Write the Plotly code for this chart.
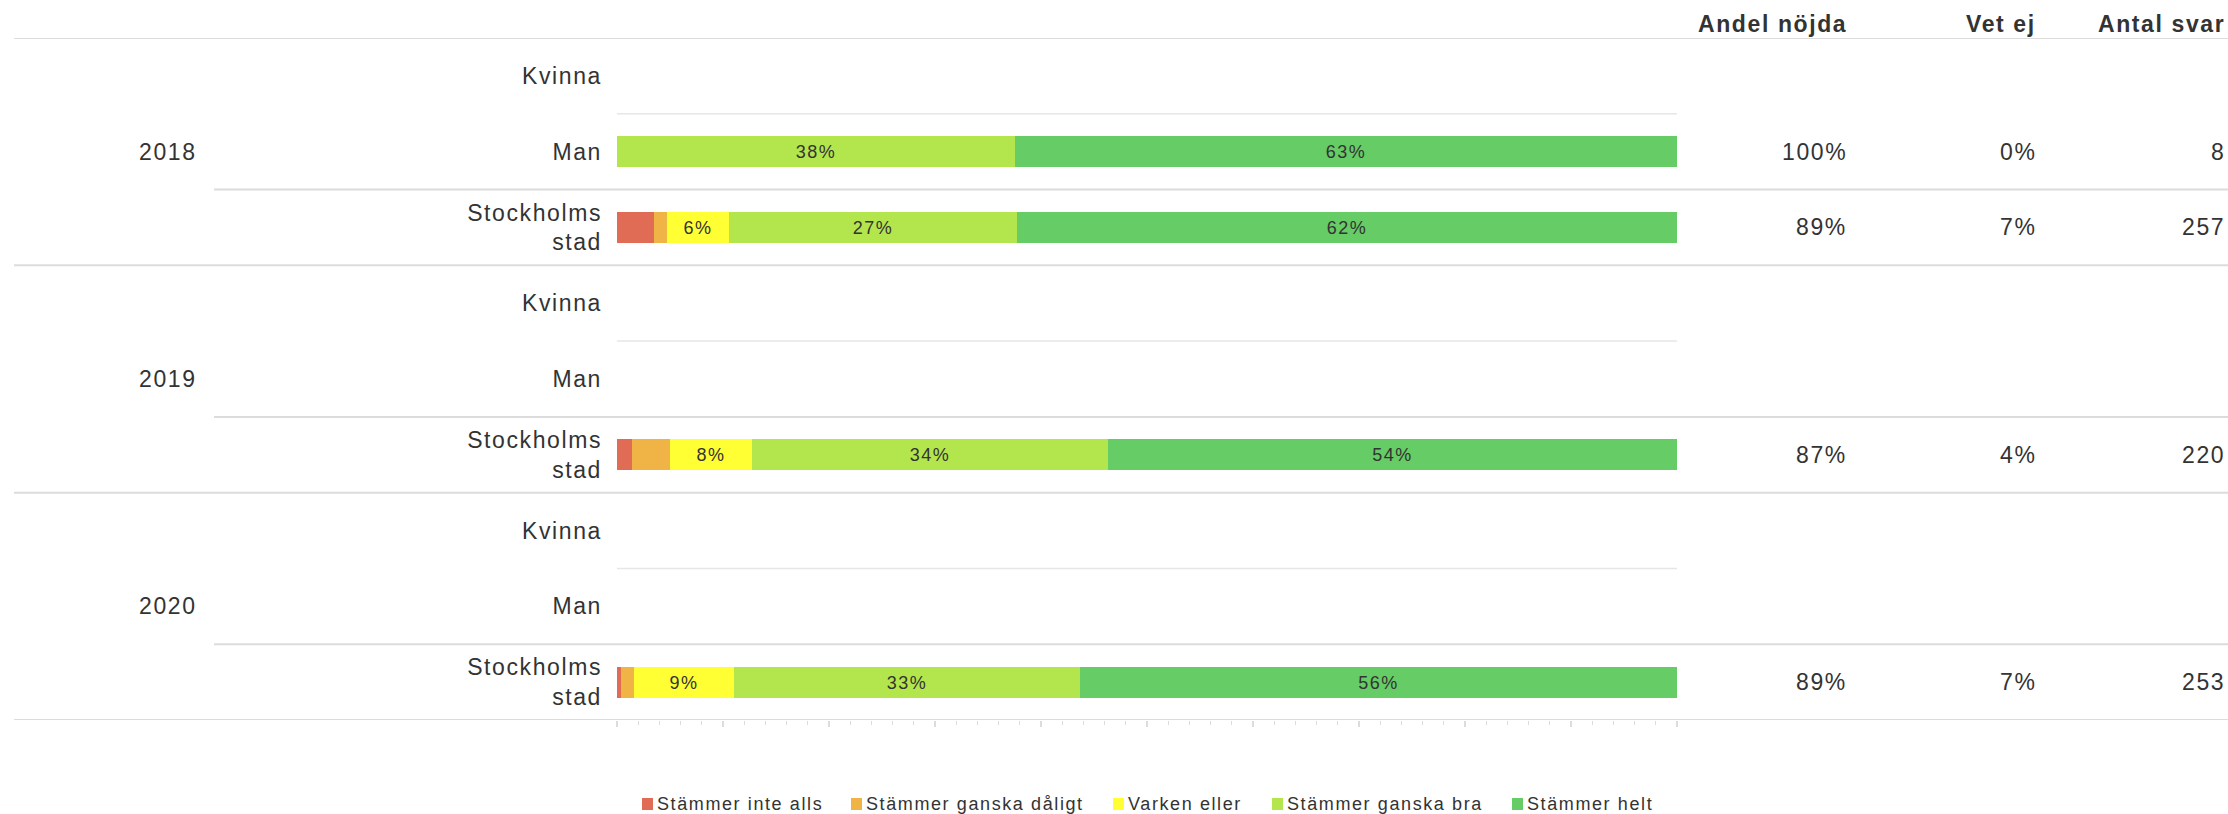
import plotly.graph_objects as go

# ---- data -------------------------------------------------------------
years = ["2018", "2019", "2020"]
groups = ["Kvinna", "Man", "Stockholms stad"]
categories = ["Stämmer inte alls", "Stämmer ganska dåligt", "Varken eller",
              "Stämmer ganska bra", "Stämmer helt"]
colors = ["#e06c55", "#f0b446", "#ffff33", "#b3e64d", "#66cc66"]

# share of answers (%) per row: 2018 Kvinna, Man, Stockholms stad, 2019 ..., 2020 ...
inte_alls = [None, 0.0, 3.5, None, None, 1.4, None, None, 0.4]
ganska_daligt = [None, 0.0, 1.2, None, None, 3.6, None, None, 1.2]
varken_eller = [None, 0.0, 5.9, None, None, 7.7, None, None, 9.4]
ganska_bra = [None, 37.5, 27.1, None, None, 33.6, None, None, 32.7]
helt = [None, 62.5, 62.3, None, None, 53.7, None, None, 56.3]

andel_nojda = ["", "100%", "89%", "", "", "87%", "", "", "89%"]
vet_ej = ["", "0%", "7%", "", "", "4%", "", "", "7%"]
antal_svar = ["", "8", "257", "", "", "220", "", "", "253"]

series = [inte_alls, ganska_daligt, varken_eller, ganska_bra, helt]

# ---- layout constants -----------------------------------------------------
W, H = 2228, 814
TOP, BOTTOM = 38, 720            # pixel rows of the plot area
X0, X1 = 617, 1677               # pixel columns of the bar area
TXT = "#333333"
FONT = "Liberation Sans, Arial, sans-serif"
GRID_MAJOR = "#dcdcdc"
GRID_MINOR = "#e6e6e6"
LABEL_SIZE = 23
LABEL_LS = 1.6


def px_x(p):
    return p / W


def px_y(p):
    return (BOTTOM - p) / (BOTTOM - TOP)


def spaced(s, px=LABEL_LS):
    return f'<span style="letter-spacing:{px}px">{s}</span>'


rows = [(y, g) for y in years for g in groups]
row_pos = list(range(len(rows)))
row_labels = ["<br>".join(spaced(w) for w in (["Stockholms", "stad"] if g == "Stockholms stad" else [g]))
              for _, g in rows]

fig = go.Figure()

for name, vals, col in zip(categories, series, colors):
    fig.add_trace(go.Bar(
        name=name,
        orientation="h",
        y=row_pos,
        x=vals,
        width=0.41,
        marker=dict(color=col, line=dict(width=0)),
        texttemplate=spaced("%{x:.0f}%", 1.5),
        textposition=["inside" if (v is not None and v >= 5) else "none" for v in vals],
        insidetextanchor="middle",
        textangle=0,
        constraintext="none",
        textfont=dict(size=18, color=TXT, family=FONT),
        showlegend=False,
        hoverinfo="skip",
    ))

shapes = []
# horizontal separators
for b in [-0.5, 2.5, 5.5, 8.5]:
    shapes.append(dict(type="line", xref="paper", yref="y", x0=px_x(14), x1=1, y0=b, y1=b,
                       line=dict(color=GRID_MAJOR, width=2)))
for b in [1.5, 4.5, 7.5]:
    shapes.append(dict(type="line", xref="paper", yref="y", x0=px_x(214), x1=1, y0=b, y1=b,
                       line=dict(color=GRID_MAJOR, width=2)))
for b in [0.5, 3.5, 6.5]:
    shapes.append(dict(type="line", xref="paper", yref="y", x0=px_x(X0), x1=px_x(X1), y0=b, y1=b,
                       line=dict(color=GRID_MINOR, width=1.5)))

annotations = []
# year labels
for i, yr in enumerate(years):
    annotations.append(dict(text=spaced(yr), xref="paper", yref="y", x=px_x(199), y=i * 3 + 1,
                            xanchor="right", yanchor="middle", showarrow=False,
                            font=dict(size=LABEL_SIZE, color=TXT, family=FONT)))

# table columns
columns = [("Andel nöjda", andel_nojda, 1849), ("Vet ej", vet_ej, 2038), ("Antal svar", antal_svar, 2227)]
for head, vals, right in columns:
    annotations.append(dict(text=spaced(head), xref="paper", yref="paper", x=px_x(right), y=px_y(24),
                            xanchor="right", yanchor="middle", showarrow=False,
                            font=dict(size=LABEL_SIZE, color=TXT, family=FONT, weight="bold")))
    for r, v in zip(row_pos, vals):
        if v:
            annotations.append(dict(text=spaced(v), xref="paper", yref="y", x=px_x(right), y=r,
                                    xanchor="right", yanchor="middle", showarrow=False,
                                    font=dict(size=LABEL_SIZE, color=TXT, family=FONT)))

# legend row under the bars
legend_x = [642, 851, 1113, 1272, 1512]
for name, col, lx in zip(categories, colors, legend_x):
    shapes.append(dict(type="rect", xref="paper", yref="paper",
                       x0=px_x(lx), x1=px_x(lx + 11), y0=px_y(798), y1=px_y(810),
                       fillcolor=col, line=dict(width=0)))
    annotations.append(dict(text=spaced(name, 1.6), xref="paper", yref="paper", x=px_x(lx + 13), y=px_y(804),
                            xanchor="left", yanchor="middle", showarrow=False,
                            font=dict(size=18, color=TXT, family=FONT)))

fig.update_layout(
    width=W, height=H,
    margin=dict(l=0, r=0, t=TOP, b=H - BOTTOM, pad=0),
    barmode="stack",
    bargap=0,
    plot_bgcolor="white",
    paper_bgcolor="white",
    font=dict(family=FONT, color=TXT),
    shapes=shapes,
    annotations=annotations,
    xaxis=dict(domain=[px_x(X0), px_x(X1)], range=[0, 100], showgrid=False, zeroline=False,
               showticklabels=False, showline=False,
               ticks="outside", tick0=0, dtick=10, ticklen=6, tickwidth=1.5, tickcolor=GRID_MAJOR,
               minor=dict(ticks="outside", dtick=2, ticklen=4, tickwidth=1, tickcolor=GRID_MAJOR)),
    yaxis=dict(domain=[0, 1], range=[8.5, -0.5], tickvals=row_pos, ticktext=row_labels,
               showgrid=False, zeroline=False, showline=False, ticks="",
               ticklabelstandoff=14,
               tickfont=dict(size=LABEL_SIZE, color=TXT, family=FONT)),
)

fig.write_html("out.html")
